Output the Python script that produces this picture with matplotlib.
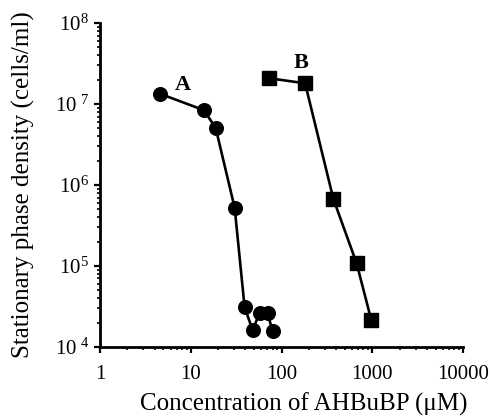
"""Stationary phase density vs AHBuBP concentration (log-log)."""
import matplotlib
matplotlib.use("Agg")
import matplotlib.pyplot as plt
from matplotlib.ticker import LogLocator, NullFormatter

plt.rcParams.update({
    "font.family": "serif", "font.serif": ["Liberation Serif", "DejaVu Serif"],
    "mathtext.fontset": "custom", "mathtext.rm": "Liberation Serif",
    "mathtext.it": "Liberation Serif:italic", "mathtext.bf": "Liberation Serif:bold",
    "axes.spines.top": False, "axes.spines.right": False,
})

# series A (circles)
conc_a = [4.64, 13.9, 18.8, 30.5, 39.2, 48, 57.3, 70.2, 79.6]
dens_a = [1.33e7, 8.4e6, 5.1e6, 5.2e5, 3.1e4, 1.62e4, 2.6e4, 2.6e4, 1.58e4]
# series B (squares)
conc_b = [72.5, 182, 373, 672, 975]
dens_b = [2.08e7, 1.8e7, 6.7e5, 1.08e5, 2.15e4]

xticks = [1, 10, 100, 1000, 10000]
xticklabels = ["1", "10", "100", "1000", "10000"]
yticks = [1e4, 1e5, 1e6, 1e7, 1e8]
yticklabels = [r"$10\;{}^{4}$", r"$10^{5}$", r"$10^{6}$", r"$10\;{}^{7}$", r"$10^{8}$"]

fig = plt.figure(figsize=(4.9, 4.18), dpi=100)
ax = fig.add_axes([0.204, 0.170, 0.741, 0.775])

ax.plot(conc_a, dens_a, "o-", color="black", lw=1.9, ms=9.8)
ax.plot(conc_b, dens_b, "s-", color="black", lw=1.9, ms=9.5)

ax.set_xscale("log"); ax.set_yscale("log")
ax.set_xlim(1, 10000); ax.set_ylim(1e4, 1e8)
ax.set_xticks(xticks); ax.set_xticklabels(xticklabels)
ax.set_yticks(yticks); ax.set_yticklabels(yticklabels)
ax.xaxis.set_minor_locator(LogLocator(base=10, subs=range(2, 10)))
ax.yaxis.set_minor_locator(LogLocator(base=10, subs=range(2, 10)))
ax.xaxis.set_minor_formatter(NullFormatter()); ax.yaxis.set_minor_formatter(NullFormatter())
ax.tick_params(which="major", direction="out", length=4, width=1.6, labelsize=15,
               colors="black", pad=4)
ax.tick_params(axis="x", which="major", pad=9)
ax.tick_params(which="minor", direction="out", length=2.5, width=1.2)
for s in ("left", "bottom"):
    ax.spines[s].set_linewidth(2.0)

ax.text(8.2, 1.72e7, "A", fontsize=16, fontweight="bold", ha="center", va="center")
ax.text(166, 3.2e7, "B", fontsize=16, fontweight="bold", ha="center", va="center")

ax.set_xlabel("Concentration of AHBuBP (μM)", fontsize=18)
ax.set_ylabel("Stationary phase density (cells/ml)", fontsize=18)
ax.xaxis.set_label_coords(0.562, -0.14)
ax.yaxis.set_label_coords(-0.18, 0.5)

fig.savefig("out.png", dpi=100)
